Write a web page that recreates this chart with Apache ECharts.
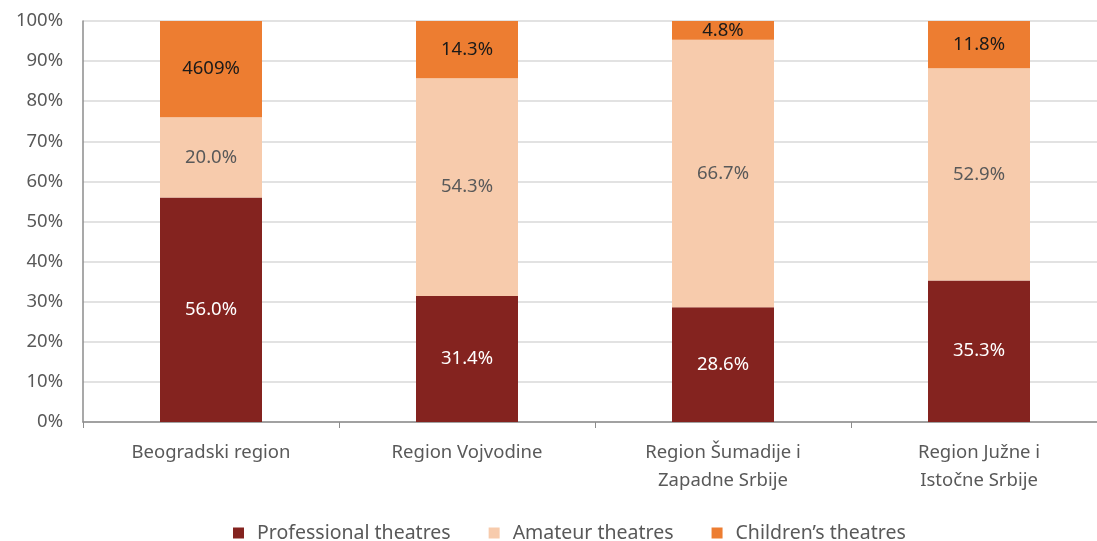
<!DOCTYPE html>
<html>
<head>
<meta charset="utf-8">
<script src="https://cdn.jsdelivr.net/npm/echarts@6/dist/echarts.min.js"></script>
<style>
  html, body { margin: 0; padding: 0; background: #fff; }
  #chart { width: 1097px; height: 541px; }
</style>
</head>
<body>
<div id="chart"></div>
<script>
var regions = ['Beogradski region', 'Region Vojvodine', 'Region Šumadije i\nZapadne Srbije', 'Region Južne i\nIstočne Srbije'];
var professional = [56.0, 31.4, 28.6, 35.3];
var amateur = [20.0, 54.3, 66.7, 52.9];
var children = [24.0, 14.3, 4.8, 11.8];
// labels as printed on the original (first one is a typo in the source)
var childrenLabels = ['4609%', '14.3%', '4.8%', '11.8%'];
var yTicks = [0, 10, 20, 30, 40, 50, 60, 70, 80, 90, 100];

var fontName = 'Noto Sans';
var myChart = echarts.init(document.getElementById('chart'));

function pct(p) { return p.value.toFixed(1) + '%'; }

var option = {
    animation: false,
    textStyle: { fontFamily: fontName },
    // plot runs a bit past the right edge of the picture in the original
    grid: { left: 83, width: 1024, top: 21, bottom: 119, outerBoundsMode: 'none' },
    legend: {
        top: 518,
        left: 228,
        itemWidth: 11,
        itemHeight: 11,
        itemGap: 38,
        icon: 'rect',
        textStyle: { color: '#595959', fontSize: 19.5, fontFamily: fontName, padding: [0, 0, 0, 8] },
        data: ['Professional theatres', 'Amateur theatres', 'Children’s theatres']
    },
    xAxis: {
        type: 'category',
        data: regions,
        axisLine: { lineStyle: { color: '#8c8c8c', width: 1.5 } },
        axisTick: { show: true, length: 6, lineStyle: { color: '#8c8c8c' } },
        axisLabel: { color: '#595959', fontSize: 18.5, margin: 17, lineHeight: 28 }
    },
    yAxis: {
        type: 'value',
        min: 0,
        max: 100,
        interval: yTicks[1] - yTicks[0],
        axisLine: { show: true, lineStyle: { color: '#8c8c8c', width: 1.5 } },
        axisTick: { show: false },
        splitLine: { lineStyle: { color: '#d9d9d9', width: 1.5 } },
        axisLabel: { color: '#595959', fontSize: 18.5, margin: 20, formatter: '{value}%' }
    },
    series: [{
        name: 'Professional theatres',
        type: 'bar',
        stack: 'all',
        barWidth: 102,
        data: professional,
        itemStyle: { color: '#84231F' },
        label: { show: true, position: 'inside', color: '#ffffff', fontSize: 18.5, formatter: pct }
    }, {
        name: 'Amateur theatres',
        type: 'bar',
        stack: 'all',
        data: amateur,
        itemStyle: { color: '#F7CBAC' },
        label: { show: true, position: 'inside', color: '#595959', fontSize: 18.5, formatter: pct }
    }, {
        name: 'Children’s theatres',
        type: 'bar',
        stack: 'all',
        data: children,
        itemStyle: { color: '#ED7D31' },
        label: {
            show: true, position: 'inside', color: '#1a1a1a', fontSize: 18.5,
            formatter: function (p) { return childrenLabels[p.dataIndex]; }
        }
    }]
};

myChart.setOption(option);
</script>
</body>
</html>
